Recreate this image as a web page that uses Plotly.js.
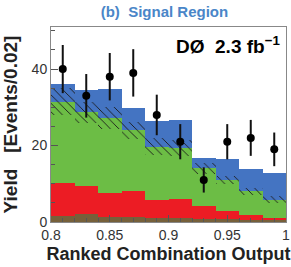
<!DOCTYPE html>
<html><head><meta charset="utf-8">
<script src="https://cdn.plot.ly/plotly-3.0.1.min.js"></script>
<style>html,body{margin:0;padding:0;background:#fff}#chart{width:291px;height:267px}</style>
</head><body><div id="chart"></div>
<script>
// bin centres of "Ranked Combination Output" (bin width 0.02)
const binCenters = [0.81, 0.83, 0.85, 0.87, 0.89, 0.91, 0.93, 0.95, 0.97, 0.99];
// stacked tops (cumulative)
const totalTop  = [36.2, 34.5, 34.9, 29.7, 26.4, 26.6, 16.8, 16.6, 13.8, 12.8]; // blue (signal) top
const bkgTop    = [31.5, 28.7, 27.2, 24.0, 19.7, 19.4, 14.0, 11.0, 8.0, 5.8];   // green top (total background)
const bkgErr    = [3.5, 2.8, 3.0, 2.2, 2.2, 2.1, 1.5, 1.0, 1.0, 0.9];           // hatched uncertainty
const redTop    = [10.3, 9.5, 7.5, 8.2, 5.7, 6.0, 4.2, 2.9, 1.8, 1.1];
const brownTop  = [1.6, 2.0, 1.2, 1.4, 1.0, 1.0, 0.7, 0.7, 0.6, 0.6];
// data
const dataY     = [40, 33, 38, 39, 28, 21, 11, 21, 22, 19];
const dataErr   = [6.3, 5.7, 6.2, 6.2, 5.3, 4.6, 3.3, 4.6, 4.7, 4.4];
// ticks
const xTickVals = [0.8, 0.85, 0.9, 0.95, 1];
const xTickText = ["0.8", "0.85", "0.9", "0.95", "1"];
const yTickVals = [0, 20, 40];
const yTickText = ["0", "20", "40"];

const W = 0.02;
function barTrace(y, color) {
  return {type: 'bar', x: binCenters, y: y, width: W,
          marker: {color: color, line: {width: 0}}, hoverinfo: 'skip', showlegend: false};
}
const traces = [
  barTrace(totalTop, '#4474c2'),
  barTrace(bkgTop, '#6cbd45'),
  barTrace(redTop, '#ec1c24'),
  barTrace(brownTop, '#76603a'),
  {type: 'bar', x: binCenters, width: W,
   base: bkgTop.map((v, i) => v - bkgErr[i]),
   y: bkgErr.map(e => 2 * e),
   marker: {color: 'rgba(0,0,0,0)', line: {width: 0},
            pattern: {shape: '\\', fgcolor: '#1a1a1a', bgcolor: 'rgba(0,0,0,0)', size: 6, solidity: 0.15}},
   hoverinfo: 'skip', showlegend: false},
  {type: 'scatter', mode: 'markers', x: binCenters, y: dataY,
   marker: {color: '#000', size: 8},
   error_y: {type: 'data', array: dataErr, visible: true, color: '#111', thickness: 2, width: 0},
   showlegend: false}
];

const font = {family: '"Liberation Sans", Arial, sans-serif', color: '#222'};
const layout = {
  width: 291, height: 267,
  margin: {l: 51, r: 5, t: 27, b: 45},
  paper_bgcolor: '#fff', plot_bgcolor: '#fff',
  barmode: 'overlay', bargap: 0,
  showlegend: false,
  font: font,
  title: {text: '(b)\u00a0 Signal Region', x: 0.565, xanchor: 'center', xref: 'container',
          y: 0.955, yanchor: 'middle', yref: 'container',
          font: {family: font.family, size: 15, weight: 'bold', color: '#4a86c8'}},
  xaxis: {range: [0.8, 1], tickmode: 'array', tickvals: xTickVals, ticktext: xTickText,
          ticks: 'inside', ticklen: 7, tickcolor: '#555', showline: true, linecolor: '#888', linewidth: 1,
          mirror: true, showgrid: false, zeroline: false,
          tickfont: {size: 14, color: '#333', family: font.family},
          minor: {dtick: 0.01, tick0: 0.8, ticks: 'inside', ticklen: 4, tickcolor: '#555', showgrid: false},
          title: {text: 'Ranked Combination Output', standoff: 5,
                  font: {size: 18, weight: 'bold', color: '#222', family: font.family}}},
  yaxis: {range: [0, 51], tickmode: 'array', tickvals: yTickVals, ticktext: yTickText,
          ticks: 'inside', ticklen: 7, tickcolor: '#555', showline: true, linecolor: '#888', linewidth: 1,
          mirror: true, showgrid: false, zeroline: false,
          tickfont: {size: 14, color: '#333', family: font.family},
          minor: {dtick: 5, tick0: 0, ticks: 'inside', ticklen: 4, tickcolor: '#555', showgrid: false},
          title: {text: 'Yield\u00a0\u00a0 [Events/0.02]', standoff: 8,
                  font: {size: 19, weight: 'bold', color: '#222', family: font.family}}},
  annotations: [{xref: 'paper', yref: 'paper', x: 0.985, y: 0.91, xanchor: 'right', yanchor: 'middle',
                 showarrow: false, text: 'DØ\u00a0 2.3 fb<sup>−1</sup>',
                 font: {family: font.family, size: 19, weight: 'bold', color: '#000'}}]
};
Plotly.newPlot('chart', traces, layout, {displayModeBar: false, staticPlot: true});
</script></body></html>
